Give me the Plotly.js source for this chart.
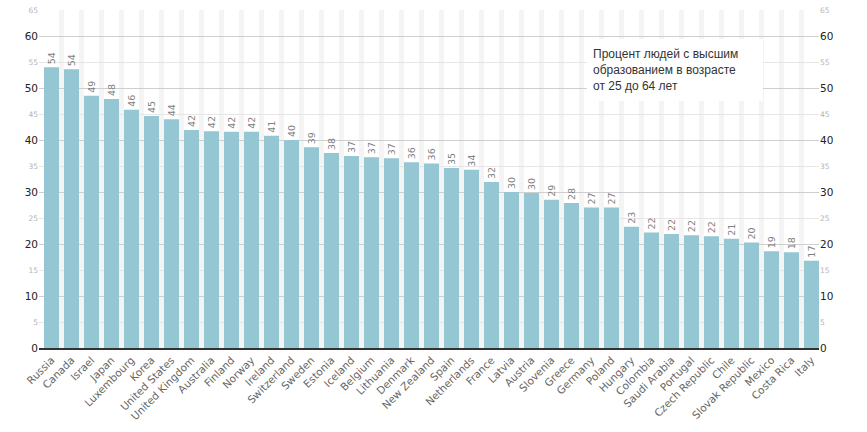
<!DOCTYPE html>
<html>
<head>
<meta charset="utf-8">
<script src="https://cdn.plot.ly/plotly-3.0.1.min.js"></script>
<style>html,body{margin:0;padding:0;background:#fff;}#chart{width:867px;height:432px;}</style>
</head>
<body>
<div id="chart"></div>
<script>
var countries = ["Russia","Canada","Israel","Japan","Luxembourg","Korea","United States","United Kingdom","Australia","Finland","Norway","Ireland","Switzerland","Sweden","Estonia","Iceland","Belgium","Lithuania","Denmark","New Zealand","Spain","Netherlands","France","Latvia","Austria","Slovenia","Greece","Germany","Poland","Hungary","Colombia","Saudi Arabia","Portugal","Czech Republic","Chile","Slovak Republic","Mexico","Costa Rica","Italy"];
var values = [54.0,53.6,48.5,47.9,45.8,44.6,44.0,41.9,41.7,41.6,41.6,40.8,40.0,38.6,37.5,36.9,36.7,36.5,35.7,35.5,34.6,34.3,31.9,30.0,29.8,28.5,27.9,27.0,27.0,23.3,22.2,21.9,21.7,21.5,21.0,20.3,18.6,18.4,16.8];
var majorTicks = [0,10,20,30,40,50,60];
var minorTicks = [5,15,25,35,45,55,65];
var noteText = "Процент людей с высшим<br>образованием в возрасте<br>от 25 до 64 лет";

var yMax = 65;
var trace = {
  type: "bar",
  x: countries,
  y: values,
  marker: {color: "#94c6d3"},
  text: values.map(function(v){return Math.round(v).toString();}),
  textposition: "outside",
  textangle: -90,
  textfont: {family: "DejaVu Sans", size: 9.5, color: "#808080"},
  cliponaxis: false,
  hoverinfo: "x+y"
};

var stripes = [];
for (var i = 0; i < countries.length - 1; i++) {
  stripes.push({
    type: "rect", layer: "below", xref: "x", yref: "y",
    x0: i + 0.5 - 0.125, x1: i + 0.5 + 0.125, y0: 0, y1: yMax + 0.4,
    fillcolor: "#f4f4f4", line: {width: 0}
  });
}

function yax(side, ticks, major, overlay) {
  var a = {
    range: [0, yMax], fixedrange: true, automargin: false,
    tickmode: "array", tickvals: ticks,
    side: side,
    showline: false, zeroline: false,
    ticks: "", ticklen: 0,
    tickfont: major ? {family: "DejaVu Sans", size: 10.5, color: "#222"} : {family: "DejaVu Sans", size: 7.5, color: "#b5b5b5"},
    showgrid: side === "left",
    gridcolor: major ? "#cfcfcf" : "#e6e6e6",
    gridwidth: 1
  };
  if (overlay) a.overlaying = "y";
  return a;
}

var layout = {
  width: 867, height: 432,
  margin: {l: 39, r: 48, t: 10, b: 84},
  paper_bgcolor: "#fff", plot_bgcolor: "rgba(0,0,0,0)",
  showlegend: false,
  bargap: 0.25,
  xaxis: {
    type: "category", tickangle: -45, fixedrange: true, automargin: false,
    range: [-0.625, countries.length - 0.625],
    tickfont: {family: "DejaVu Sans", size: 10.5, color: "#666"},
    showline: true, linecolor: "#333", linewidth: 2,
    showgrid: false, ticks: ""
  },
  yaxis: yax("left", majorTicks, true, false),
  yaxis2: yax("left", minorTicks, false, true),
  yaxis3: yax("right", majorTicks, true, true),
  yaxis4: yax("right", minorTicks, false, true),
  shapes: stripes,
  annotations: [{
    xref: "paper", yref: "paper", x: 0.703, y: 0.914,
    xanchor: "left", yanchor: "top",
    text: noteText, showarrow: false, align: "left",
    font: {family: "Liberation Sans", size: 12, color: "#333"},
    bgcolor: "#ffffff", bordercolor: "rgba(0,0,0,0)", borderwidth: 0,
    borderpad: 6, width: 164, height: 50
  }]
};

var dummy = function(ax){ return {type: "scatter", x: [countries[0]], y: [0], yaxis: ax, mode: "markers", marker: {opacity: 0}, hoverinfo: "skip"}; };
Plotly.newPlot("chart", [trace, dummy("y2"), dummy("y3"), dummy("y4")], layout, {displayModeBar: false, staticPlot: true});
</script>
</body>
</html>
